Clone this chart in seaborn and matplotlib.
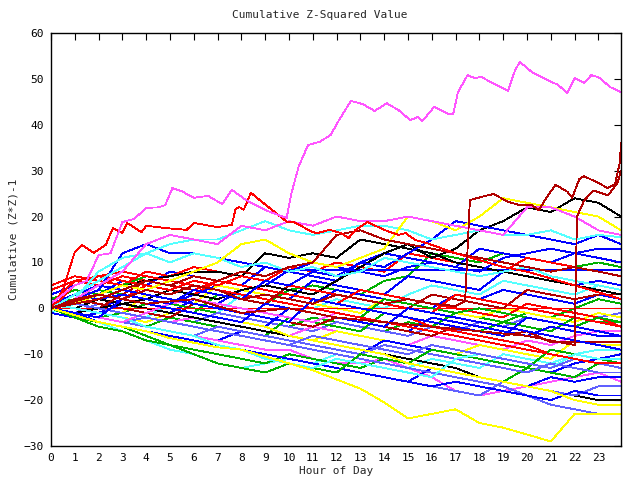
import matplotlib
matplotlib.use("Agg")
import matplotlib.pyplot as plt
import seaborn as sns
import pandas as pd

HOURS = [0, 1, 2, 3, 4, 5, 6, 7, 8, 9, 10, 11, 12, 13, 14, 15, 16, 17, 18, 19, 20, 21, 22, 23, 23.95]

COL = {
    "red": "#ff0000", "green": "#00b000", "blue": "#0000ff", "magenta": "#ff55ff",
    "cyan": "#55ffff", "darkred": "#b00000", "yellow": "#ffff00", "black": "#000000",
    "lightblue": "#6060ff",
}

# hourly series: (colour, values at HOURS)
hourly_series = [
    ("green",     [0, -1, -2, -1, 1, 0, -1, 3, 2, 1, 4, 5, 4, 3, 6, 7, 12, 11, 10, 12, 11, 10, 9, 10, 9]),
    ("blue",      [2, 4, 3, 6, 5, 8, 7, 6, 5, 9, 8, 7, 6, 10, 12, 11, 10, 9, 13, 12, 11, 10, 12, 11, 10]),
    ("red",       [5, 7, 6, 5, 8, 7, 9, 8, 7, 6, 9, 8, 10, 9, 8, 12, 11, 10, 9, 8, 11, 10, 9, 8, 7]),
    ("blue",      [1, 3, 2, 1, 0, -1, 2, 1, 4, 3, 2, 6, 5, 4, 3, 7, 6, 5, 4, 8, 7, 6, 5, 6, 5]),
    ("cyan",      [-1, 1, 0, -1, -2, 1, 0, -1, 3, 2, 1, 0, 2, 1, 0, 3, 5, 4, 3, 6, 5, 4, 3, 5, 4]),
    ("blue",      [3, 5, 7, 6, 5, 4, 3, 5, 4, 3, 2, 1, 4, 3, 2, 1, 0, 3, 2, 4, 3, 2, 1, 3, 2]),
    ("green",     [1, 2, 4, 3, 2, 1, 0, -1, -2, -3, -4, -2, -3, -4, -5, -3, -4, -1, -2, -3, -1, -2, 0, 2, 1]),
    ("lightblue", [0, -1, 1, 0, -1, -2, -3, -1, -2, -3, -4, -5, -3, -4, -5, -6, -4, -5, -3, -4, -2, -3, -4, -2, -1]),
    ("yellow",    [0, 1, 0, -1, 3, 2, 1, 5, 4, 3, 2, 1, 0, -1, 2, 1, 0, -1, -2, 0, -1, -2, -3, -1, -2]),
    ("green",     [0, -1, -2, -3, -4, -2, -3, -4, -5, -6, -2, -3, -4, -5, -1, -2, -3, -4, -5, -3, -4, -5, -2, -3, -3]),
    ("magenta",   [0, 1, 0, -1, -2, -3, -2, -3, -4, -5, -6, -4, -5, -6, -7, -8, -6, -7, -8, -9, -7, -8, -6, -5, -5]),
    ("blue",      [2, 1, 0, 2, 1, 0, -1, -2, -3, -4, 0, -1, -2, -3, -4, -5, -2, -3, -4, -5, -6, -4, -5, -6, -6]),
    ("yellow",    [1, 0, -1, -2, -3, -1, -2, -3, -4, -5, -6, -7, -5, -6, -7, -8, -9, -10, -8, -9, -10, -11, -7, -8, -8]),
    ("cyan",      [0, -2, -3, -5, -7, -9, -10, -12, -13, -12, -11, -12, -10, -11, -12, -13, -11, -12, -13, -10, -11, -12, -10, -9, -9]),
    ("blue",      [0, -1, -2, -3, -4, -5, -6, -7, -5, -6, -7, -8, -9, -10, -7, -8, -9, -10, -11, -12, -13, -14, -12, -11, -10]),
    ("black",     [1, 0, 2, 1, 0, -1, -2, -3, -4, -5, -6, -7, -8, -9, -10, -11, -12, -13, -15, -16, -17, -18, -19, -20, -20]),
    ("magenta",   [0, -1, -2, -3, -4, -5, -6, -7, -8, -9, -9, -11, -12, -12, -11, -13, -15, -18, -19, -18, -17, -16, -15, -14, -16]),
    ("green",     [-1, -2, -4, -5, -7, -8, -9, -10, -11, -12, -10, -11, -12, -13, -11, -12, -13, -14, -15, -16, -13, -14, -15, -12, -13]),
    ("lightblue", [0, -1, -2, -3, -4, -5, -6, -4, -5, -6, -7, -8, -9, -10, -8, -9, -10, -11, -12, -13, -14, -12, -13, -14, -14]),
    ("blue",      [0, -1, -3, -4, -5, -6, -7, -8, -9, -10, -11, -12, -13, -14, -15, -16, -13, -14, -15, -16, -17, -15, -16, -15, -15]),
    ("lightblue", [0, -2, -3, -4, -5, -6, -7, -8, -9, -10, -11, -12, -13, -14, -15, -16, -17, -18, -19, -16, -17, -18, -19, -17, -17]),
    ("lightblue", [0, -1, -2, -3, -2, -3, -4, -5, -6, -7, -8, -9, -10, -11, -12, -13, -14, -15, -16, -17, -19, -21, -22, -23, -23]),
    ("blue",      [-1, -2, -3, -4, -5, -6, -7, -8, -9, -10, -11, -12, -13, -14, -15, -16, -17, -16, -17, -18, -19, -20, -18, -19, -19]),
    ("darkred",   [0, 2, 1, 0, -1, -2, 1, 0, -1, -2, -3, -4, -2, -3, -4, -5, -6, -4, -5, -6, -5, -7.4, -7.4, -7.4, -7.4]),
    ("red",       [0, 0, 0, 0, 0, 0, 0, 0, 0, 0, 0, 0, 0, 0, 0, 0, 0, 0, 0, 0, 0, 0, 0, 0, 0]),
    ("blue",      [0, -2, -1, 1, 2, 1, 3, 2, 4, 5, 8.3, 8.3, 8.3, 8.3, 8.3, 8.3, 8.3, 8.3, 8.3, 8.3, 8.3, 8.3, 8.3, 8.3, 8.3]),
    ("red",       [4, 6, 5, 7, 6, 5, 4, 6, 5, 4, 3, 2, 1, 0, -1, -2, -4, -5, -6, -7, -8, -10, -11, -12, -13]),
    ("red",       [2, 4, 3, 2, 5, 4, 3, 6, 5, 4, 3, 2, 1, 4, 3, 2, 1, 0, -1, -2, 1, 0, -1, -2, -4]),
    ("darkred",   [0, 1, 0, 3, 6, 5, 4, 3, 2, 1, 5, 4, 3, 2, 1, 0, 3, 2, 1, 0, 4, 3, 2, 3, 3]),
    ("black",     [0, 2, 3, 5, 6, 7, 8, 8, 7, 12, 11, 12, 11, 15, 14, 13, 12, 10, 9, 8, 7, 6, 5, 4, 3]),
    ("black",     [0, -1, 0, 1, 2, 4, 3, 2, 4, 5, 4, 3, 6, 9, 12, 14, 11, 13, 17, 19, 22, 21, 24, 23, 20]),
    ("green",     [0, -2, -3, -4, -6, -8, -10, -12, -13, -14, -12, -13, -14, -10, -11, -12, -9, -10, -11, -12, -13, -9, -10, -11, -12]),
    ("cyan",      [1, 0, -1, -2, -4, -5, -6, -8, -9, -11, -12, -13, -11, -12, -13, -14, -15, -11, -10, -11, -12, -13, -10, -11, -11]),
    ("yellow",    [0, 1, 3, 2, 1, 0, -1, -2, -3, -4, -6, -7, -8, -9, -10, -12, -13, -14, -15, -16, -17, -18, -20, -21, -21]),
    ("magenta",   [0, -1, -2, -3, -1, 1, 2, 1, 0, -1, -2, -3, -1, -2, -3, -4, -5, -6, -7, -8, -9, -10, -11, -12, -12]),
    ("lightblue", [0, 1, 0, -1, -2, -3, -4, -5, -6, -7, -8, -6, -7, -8, -9, -10, -8, -9, -10, -11, -12, -13, -11, -12, -13]),
    ("green",     [2, 4, 3, 5, 7, 6, 5, 4, 3, 2, 1, 0, -1, -2, 2, 1, 0, -1, 0, -1, -2, -3, -4, -2, -3]),
    ("red",       [1, 6, 7, 8, 7, 6, 5, 4, 3, 2, 1, 0, -1, -2, -3, -4, -5, -6, -7, -8, -9, -10, -11, -12, -12]),
    ("red",       [0, 5, 7, 6, 5, 4, 6, 5, 7, 6, 5, 4, 3, 2, 1, 0, -1, 3, 2, 1, 0, -1, -2, -3, -4]),
    ("blue",      [0, 3, 5, 4, 3, 2, 1, 0, -1, -2, -3, 2, 1, 0, -1, -2, -3, -4, -5, -6, -2, -3, -4, -5, -6]),
    ("blue",      [0, -1, -2, 2, 1, 0, -1, -2, -3, 1, 0, -1, -2, -3, -4, 0, -1, -2, -3, -4, -5, -6, -7, -8, -9]),
    ("blue",      [0, 1, 2, 3, 2, 1, 4, 3, 2, 6, 5, 8, 7, 10, 9, 12, 15, 19, 18, 17, 16, 15, 14, 16, 14]),
    ("blue",      [0, 2, 4, 12, 14, 12, 12, 11, 10, 9, 8, 10, 9, 8, 7, 9, 10, 9, 8, 11, 12, 13, 12, 13, 13]),
    ("cyan",      [0, 3, 6, 9, 12, 14, 15, 15, 17, 19, 17, 16, 17, 18, 18, 17, 15, 16, 17, 16, 16, 17, 15, 16, 15.5]),
    ("cyan",      [0, 2, 8, 11, 12, 10, 12, 11, 9, 10, 8, 9, 7, 8, 11, 10, 9, 8, 7, 8, 9, 7, 6, 5, 4]),
    ("yellow",    [0, 1, 3, 5, 4, 6, 8, 10, 14, 15, 12, 10, 9, 11, 13, 20, 19, 17, 20, 24, 23, 22, 21, 20, 17]),
    ("darkred",   [0, 1, 2, 4, 6, 5, 7, 6, 8, 7, 9, 10, 16, 17, 15, 14, 13, 12, 11, 10, 9, 8, 9, 8, 7]),
    ("magenta",   [0, 2, 5, 8, 14, 16, 15, 14, 18, 17, 19, 18, 20, 19, 19, 20, 19, 18, 17, 16, 22, 22, 20, 17, 16]),
    ("yellow",    [0, -1.5, -3, -4, -5, -6.5, -7.5, -8.5, -9, -10.5, -12, -13.5, -15.5, -17.5, -20.5, -24, -23, -22, -25, -26, -27.5, -29, -23, -23, -23]),
]

# detailed series: (colour, x values, y values)
red_high_x = [0, 0.5, 0.8, 1, 1.3, 1.8, 2.3, 2.6, 3.0, 3.2, 3.8, 4.0, 4.8, 5.7, 6.0, 7.0, 7.6, 7.75, 7.9, 8.1, 8.4, 8.6,
              9.9, 10.2, 11.0, 11.2, 11.7, 12.2, 12.5, 12.8, 13.3, 14.0, 14.6, 14.9, 15.3, 15.8, 17, 18, 19, 20, 21, 22, 23, 23.95]
red_high_y = [0, 4, 9, 12.3, 13.8, 12.1, 13.8, 17.5, 16.4, 18.6, 16.6, 18, 17.5, 17.1, 18.6, 17.7, 18.2, 21.5, 22.1, 21.5, 25.2, 24.3,
              18.9, 18.8, 16.6, 16.4, 17.1, 16.4, 15.3, 17.1, 18.8, 17.1, 16.0, 16.4, 14.9, 14.2, 12, 10.5, 9, 8, 6.5, 5, 3.5, 2]

darkred_jump_x = [0, 1, 2, 3, 4, 5, 6, 7, 8, 9, 10, 11, 12, 13, 14, 15, 16, 17, 17.4, 17.6, 18.4, 18.6, 19.2, 19.7, 20.2, 20.5,
                  20.8, 21.2, 21.7, 21.9, 22.2, 22.4, 23.0, 23.4, 23.7, 23.9, 23.95]
darkred_jump_y = [0, 2, 3, 2, 4, 3, 5, 4, 2, 3, 2, 1, 3, 2, 1, 2, 1, 0.5, 1.5, 23.6, 24.7, 24.9, 23.2, 22.5, 22.5, 21.4,
                  24.0, 26.9, 25.4, 24.1, 28.2, 28.8, 27.3, 26.2, 27.1, 31.7, 36]

darkred_late_x = [0, 2, 4, 6, 8, 10, 12, 14, 16, 18, 20, 21, 22.0, 22.1, 22.4, 22.8, 23.4, 23.8, 23.95]
darkred_late_y = [0, 3, 1, 2, -1, 0, -2, -3, -4, -5, -6, -7, -8, 20, 23.5, 25.7, 24.6, 27.3, 30]

magenta_top_x = [0, 0.5, 1, 1.5, 2, 2.5, 3, 3.5, 4, 4.5, 4.8, 5.1, 5.5, 6, 6.6, 7.2, 7.6, 8.2, 8.6, 9.2, 9.9, 10.1, 10.4,
                 10.8, 11.3, 11.75, 12.1, 12.6, 13.1, 13.6, 14.1, 14.6, 15.1, 15.4, 15.6, 16.1, 16.7, 16.9, 17.1, 17.5,
                 17.8, 18.1, 18.4, 19.2, 19.5, 19.7, 20.2, 20.6, 21.3, 21.7, 22.0, 22.4, 22.7, 23.0, 23.5, 23.95]
magenta_top_y = [1, 3, 5, 6, 11.6, 12, 18.8, 19.5, 21.9, 22, 22.5, 26.2, 25.5, 24.1, 24.5, 22.7, 25.8, 23.6, 22.5, 21, 19.7, 25, 30.8,
                 35.6, 36.3, 37.8, 41, 45.2, 44.5, 43, 44.7, 43.2, 41, 41.7, 40.8, 43.9, 42.4, 42.4, 47.1, 50.8,
                 50.2, 50.4, 49.5, 47.4, 51.9, 53.7, 51.5, 50.4, 48.7, 46.9, 50.2, 49.1, 50.8, 50.4, 48.2, 47.1]

detailed_series = [
    ("red", red_high_x, red_high_y),
    ("darkred", darkred_late_x, darkred_late_y),
    ("darkred", darkred_jump_x, darkred_jump_y),
    ("magenta", magenta_top_x, magenta_top_y),
]

TITLE = "Cumulative Z-Squared Value"
XLABEL = "Hour of Day"
YLABEL = "Cumulative (Z*Z)-1"
XTICKS = list(range(0, 24))
YTICKS = list(range(-30, 61, 10))

sns.set_style("white")
plt.rcParams["font.family"] = ["DejaVu Sans Mono"]

fig = plt.figure(figsize=(6.4, 4.8), dpi=100)
ax = fig.add_axes([51 / 640, 1 - 446 / 480, (621 - 51) / 640, (446 - 33) / 480])

for c, vals in hourly_series:
    df = pd.DataFrame({"x": HOURS, "y": vals})
    sns.lineplot(data=df, x="x", y="y", ax=ax, color=COL[c], linewidth=0.6,
                 estimator=None, sort=False, antialiased=False)
for c, xs, ys in detailed_series:
    df = pd.DataFrame({"x": xs, "y": ys})
    sns.lineplot(data=df, x="x", y="y", ax=ax, color=COL[c], linewidth=0.6,
                 estimator=None, sort=False, antialiased=False)

ax.set_xlim(0, 23.95)
ax.set_ylim(-30, 60)
ax.set_xticks(XTICKS)
ax.set_yticks(YTICKS)
ax.tick_params(direction="in", length=5, width=0.8, top=True, right=True,
               labelsize=8, colors="black", pad=5)
for s in ax.spines.values():
    s.set_color("black")
    s.set_linewidth(1)
    s.set_visible(True)
ax.set_xlabel(XLABEL, fontsize=8, labelpad=2)
ax.set_ylabel(YLABEL, fontsize=8, labelpad=4)
fig.text(0.5, 1 - 15 / 480, TITLE, ha="center", va="center", fontsize=8)
ax.grid(False)

fig.savefig("out.png", dpi=100)
